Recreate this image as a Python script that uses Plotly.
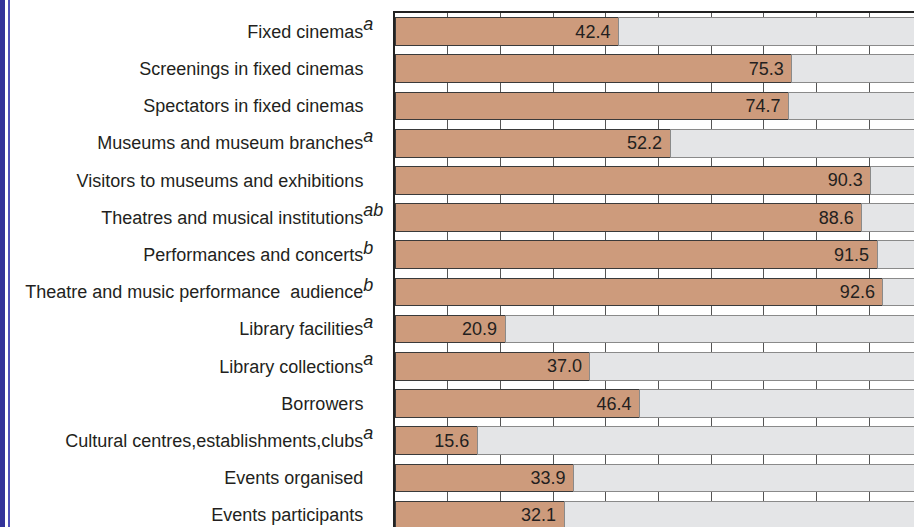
import plotly.graph_objects as go

categories = [
    "Fixed cinemas",
    "Screenings in fixed cinemas",
    "Spectators in fixed cinemas",
    "Museums and museum branches",
    "Visitors to museums and exhibitions",
    "Theatres and musical institutions",
    "Performances and concerts",
    "Theatre and music performance  audience",
    "Library facilities",
    "Library collections",
    "Borrowers",
    "Cultural centres,establishments,clubs",
    "Events organised",
    "Events participants",
]
footnotes = ["a", "", "", "a", "", "ab", "b", "b", "a", "a", "", "a", "", ""]
values = [42.4, 75.3, 74.7, 52.2, 90.3, 88.6, 91.5, 92.6, 20.9, 37.0, 46.4, 15.6, 33.9, 32.1]
total = 100

FONT = "Liberation Sans, Arial, sans-serif"
FS = 18
NB = "\u00a0"


def label(name, note):
    # pad with non-breaking spaces so that main texts end at the same x
    if not note:
        return name + NB * 4
    pad = NB * (4 - 2 * len(note))
    return f"{name}<sup><span style='font-size:{FS}px'><i>{note}</i>{pad}</span></sup>"


ticktext = [label(c, n) for c, n in zip(categories, footnotes)]
ypos = list(range(len(categories)))
rest = [total - v for v in values]

fig = go.Figure()
fig.add_trace(go.Bar(
    y=ypos, x=values, orientation="h",
    marker=dict(color="#cd9b7c", line=dict(color="#3a3a3a", width=1)),
    text=[f"{v:.1f}{NB}" for v in values],
    textposition="inside", insidetextanchor="end", constraintext="none",
    textfont=dict(size=FS, color="#231f20", family=FONT),
    hoverinfo="skip", showlegend=False,
))
fig.add_trace(go.Bar(
    y=ypos, x=rest, orientation="h",
    marker=dict(color="#e4e5e7", line=dict(color="#8a8a8a", width=1)),
    hoverinfo="skip", showlegend=False,
))

fig.update_layout(
    width=914, height=527,
    barmode="stack", bargap=0.255,
    uniformtext=dict(minsize=FS, mode="show"),
    margin=dict(l=395, r=0, t=13, b=0),
    paper_bgcolor="white", plot_bgcolor="white",
    font=dict(family=FONT, size=FS, color="#231f20"),
    xaxis=dict(
        side="top", range=[0, 98.5], dtick=10, showticklabels=False,
        showgrid=True, gridcolor="#555555", gridwidth=1,
        showline=True, linecolor="#222222", linewidth=2,
        zeroline=False, ticks="",
    ),
    yaxis=dict(
        tickmode="array", tickvals=ypos, ticktext=ticktext,
        range=[13.32, -0.5], showgrid=False, zeroline=False,
        showline=True, linecolor="#222222", linewidth=2,
        ticks="", ticklabelstandoff=6,
        tickfont=dict(size=FS, color="#231f20", family=FONT),
    ),
    shapes=[
        dict(type="rect", xref="paper", yref="paper",
             x0=-395 / 519, x1=-390 / 519, y0=-0.1, y1=1.1,
             fillcolor="#33339a", line=dict(width=0), layer="above"),
        dict(type="rect", xref="paper", yref="paper",
             x0=-387 / 519, x1=-385 / 519, y0=-0.1, y1=1.1,
             fillcolor="#5050b8", line=dict(width=0), layer="above"),
    ],
)

fig.write_html("out.html", config={"displayModeBar": False},
               post_script="document.body.style.margin='0';")
